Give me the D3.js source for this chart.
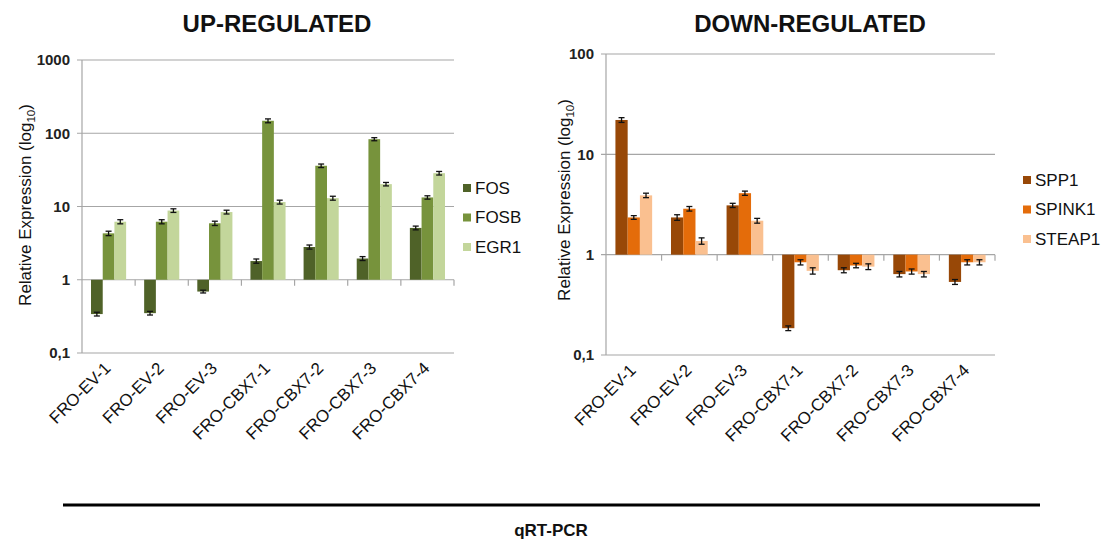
<!DOCTYPE html>
<html>
<head>
<meta charset="utf-8">
<script src="https://cdn.jsdelivr.net/npm/d3@7"></script>
<style>
  html, body { margin: 0; padding: 0; background: #ffffff; }
  svg { display: block; font-family: "Liberation Sans", Arial, sans-serif; }
</style>
</head>
<body>
<svg id="chart" width="1104" height="541"></svg>
<script>
// Sample lines shared by both panels
const categories = ["FRO-EV-1", "FRO-EV-2", "FRO-EV-3", "FRO-CBX7-1", "FRO-CBX7-2", "FRO-CBX7-3", "FRO-CBX7-4"];

// Up-regulated genes (relative expression, log scale)
const upSeries = ["FOS", "FOSB", "EGR1"];
const fosValues  = [0.34, 0.35, 0.69, 1.8, 2.8, 1.95, 5.1];
const fosbValues = [4.3, 6.2, 5.9, 148, 36, 83, 13.3];
const egr1Values = [6.2, 8.8, 8.4, 11.5, 13.0, 20.2, 28.5];
const fosErr  = [0.02, 0.02, 0.03, 0.12, 0.18, 0.12, 0.3];
const fosbErr = [0.3, 0.4, 0.4, 9, 2, 4, 0.7];
const egr1Err = [0.4, 0.5, 0.5, 0.7, 0.8, 1.1, 1.6];
const upTicks = [0.1, 1, 10, 100, 1000];

// Down-regulated genes
const downSeries = ["SPP1", "SPINK1", "STEAP1"];
const spp1Values   = [22.0, 2.35, 3.1, 0.185, 0.70, 0.64, 0.535];
const spink1Values = [2.35, 2.87, 4.1, 0.84, 0.78, 0.68, 0.84];
const steap1Values = [3.9, 1.37, 2.18, 0.69, 0.76, 0.64, 0.84];
const spp1Err   = [1.2, 0.15, 0.15, 0.01, 0.04, 0.04, 0.03];
const spink1Err = [0.1, 0.15, 0.2, 0.05, 0.04, 0.04, 0.05];
const steap1Err = [0.2, 0.1, 0.12, 0.05, 0.05, 0.04, 0.05];
const downTicks = [0.1, 1, 10, 100];

const tickFormat = v => (v < 1 ? String(v).replace(".", ",") : String(v));

const svg = d3.select("#chart");

function drawPanel(cfg) {
  const g = svg.append("g");
  const x = d3.scaleBand().domain(categories).range([cfg.x0, cfg.x1]).padding(0);
  const sub = d3.scaleBand().domain(cfg.series).range([0, x.bandwidth()])
    .paddingInner(0).paddingOuter(0.77);
  const y = d3.scaleLog().domain(cfg.domain).range([cfg.y1, cfg.y0]);

  // horizontal gridlines with short outer ticks
  g.selectAll("line.grid").data(cfg.ticks).join("line")
    .attr("x1", cfg.x0 - 5).attr("x2", cfg.x1)
    .attr("y1", d => y(d)).attr("y2", d => y(d))
    .attr("stroke", "#a6a6a6").attr("stroke-width", 1.2);

  // vertical axis line
  g.append("line")
    .attr("x1", cfg.x0).attr("x2", cfg.x0)
    .attr("y1", y(cfg.domain[1])).attr("y2", y(cfg.domain[0]))
    .attr("stroke", "#a6a6a6").attr("stroke-width", 1.2);

  // tick labels
  g.selectAll("text.ytick").data(cfg.ticks).join("text")
    .attr("x", cfg.x0 - 12).attr("y", d => y(d)).attr("dy", "0.35em")
    .attr("text-anchor", "end").attr("font-size", 15).attr("font-weight", "bold")
    .attr("fill", "#222").text(tickFormat);

  // category separators on the baseline (value 1)
  const sepX = categories.slice(1).map(c => x(c)).concat([cfg.x1]);
  g.selectAll("line.sep").data(sepX).join("line")
    .attr("x1", d => d).attr("x2", d => d)
    .attr("y1", y(1)).attr("y2", y(1) + 6)
    .attr("stroke", "#a6a6a6").attr("stroke-width", 1.2);

  // bars grouped by category
  const rows = [];
  cfg.series.forEach((s, si) => {
    categories.forEach((c, ci) => {
      rows.push({ s, c, v: cfg.values[si][ci], e: cfg.errors[si][ci], color: cfg.colors[si] });
    });
  });

  g.selectAll("rect.bar").data(rows).join("rect")
    .attr("x", d => x(d.c) + sub(d.s))
    .attr("width", sub.bandwidth())
    .attr("y", d => Math.min(y(d.v), y(1)))
    .attr("height", d => Math.abs(y(d.v) - y(1)))
    .attr("fill", d => d.color);

  // error bars
  const eb = g.selectAll("g.err").data(rows).join("g")
    .attr("transform", d => `translate(${x(d.c) + sub(d.s) + sub.bandwidth() / 2},0)`);
  eb.append("line")
    .attr("y1", d => y(d.v - d.e)).attr("y2", d => y(d.v + d.e))
    .attr("stroke", "#111").attr("stroke-width", 1.3);
  eb.append("line")
    .attr("x1", -3).attr("x2", 3)
    .attr("y1", d => y(d.v - d.e)).attr("y2", d => y(d.v - d.e))
    .attr("stroke", "#111").attr("stroke-width", 1.3);
  eb.append("line")
    .attr("x1", -3).attr("x2", 3)
    .attr("y1", d => y(d.v + d.e)).attr("y2", d => y(d.v + d.e))
    .attr("stroke", "#111").attr("stroke-width", 1.3);

  // rotated category labels below the plot
  g.selectAll("text.xlab").data(categories).join("text")
    .attr("transform", d => `translate(${x(d) + x.bandwidth() / 2 - 1},${cfg.y1 + 12}) rotate(-45)`)
    .attr("text-anchor", "end").attr("dy", "0.35em")
    .attr("font-size", 17).attr("fill", "#111").text(d => d);

  // y-axis title
  const yt = g.append("text")
    .attr("transform", `translate(${cfg.titleX},${cfg.titleY}) rotate(-90)`)
    .attr("text-anchor", "middle").attr("font-size", 17).attr("fill", "#111");
  yt.append("tspan").text("Relative Expression (log");
  yt.append("tspan").attr("font-size", 11.5).attr("dy", 4).text("10");
  yt.append("tspan").attr("dy", -4).text(")");

  // panel heading
  g.append("text")
    .attr("x", cfg.headX).attr("y", 32)
    .attr("text-anchor", "middle").attr("font-size", 24).attr("font-weight", "bold")
    .attr("fill", "#111").text(cfg.heading);

  // legend
  const lg = g.selectAll("g.leg").data(cfg.series).join("g")
    .attr("transform", (d, i) => `translate(${cfg.legX},${cfg.legY + i * 29.5})`);
  lg.append("rect").attr("x", 0).attr("y", -4).attr("width", 8).attr("height", 8)
    .attr("fill", (d, i) => cfg.colors[i]);
  lg.append("text").attr("x", 12).attr("y", 0).attr("dy", "0.35em")
    .attr("font-size", 17).attr("fill", "#111").text(d => d);
}

drawPanel({
  heading: "UP-REGULATED", headX: 277,
  series: upSeries,
  values: [fosValues, fosbValues, egr1Values],
  errors: [fosErr, fosbErr, egr1Err],
  colors: ["#4f6228", "#77933c", "#c3d69b"],
  domain: [0.1, 1000], ticks: upTicks,
  x0: 82, x1: 454, y0: 60, y1: 353,
  titleX: 31, titleY: 205,
  legX: 463, legY: 188
});

drawPanel({
  heading: "DOWN-REGULATED", headX: 810,
  series: downSeries,
  values: [spp1Values, spink1Values, steap1Values],
  errors: [spp1Err, spink1Err, steap1Err],
  colors: ["#984807", "#e46c0a", "#fac090"],
  domain: [0.1, 100], ticks: downTicks,
  x0: 606, x1: 995, y0: 54, y1: 355,
  titleX: 570, titleY: 200,
  legX: 1023, legY: 180
});

// footer rule and method caption
svg.append("line")
  .attr("x1", 63).attr("x2", 1040).attr("y1", 505).attr("y2", 505)
  .attr("stroke", "#000").attr("stroke-width", 3);
svg.append("text")
  .attr("x", 551).attr("y", 536)
  .attr("text-anchor", "middle").attr("font-size", 17).attr("font-weight", "bold")
  .attr("font-family", "'Liberation Sans Narrow', 'Liberation Sans', Arial, sans-serif")
  .attr("fill", "#111").text("qRT-PCR");
</script>
</body>
</html>
